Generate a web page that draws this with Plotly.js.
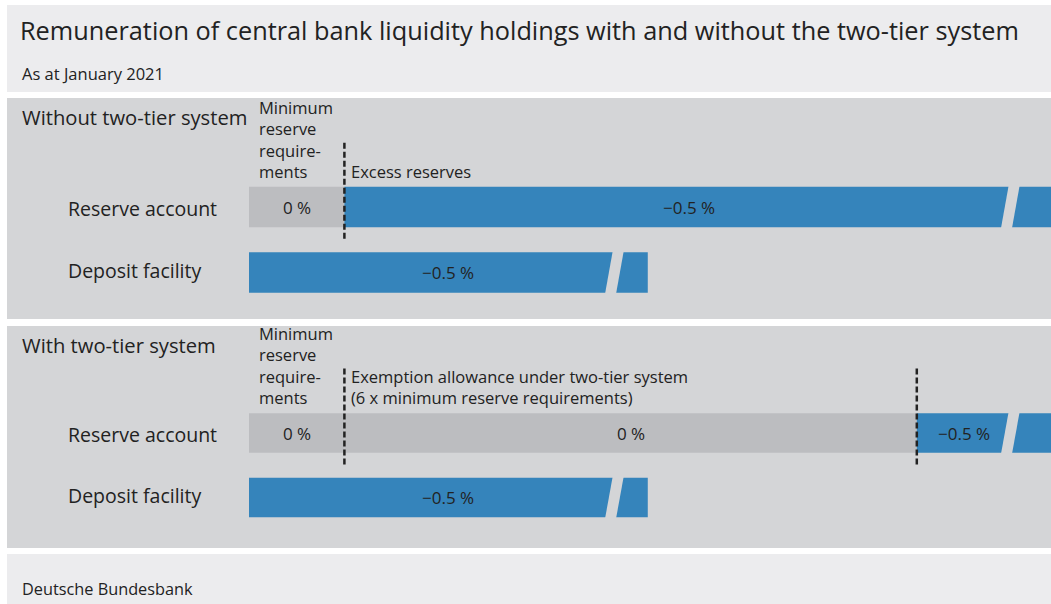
<!DOCTYPE html>
<html><head><meta charset="utf-8">
<script src="https://cdn.plot.ly/plotly-3.0.1.min.js"></script>
<style>html,body{margin:0;padding:0;background:#fff;} #chart{width:1051px;height:604px;}</style>
</head><body><div id="chart"></div>
<script>
// ---------------- data ----------------
const rowNames = ["Reserve account", "Deposit facility"];
const panelNames = ["Without two-tier system", "With two-tier system"];
// holdings, in units of the minimum reserve requirement
const segNamesNoTier = ["Minimum<br>reserve<br>require-<br>ments", "Excess reserves"];
const reserveNoTier = [1, 9];            // minimum reserves, excess reserves
const rateNoTier = [0, -0.5];            // % remuneration
const segNamesTier = ["Minimum<br>reserve<br>require-<br>ments", "Exemption allowance under two-tier system<br>(6 x minimum reserve requirements)", ""];
const reserveTier = [1, 6, 3];           // minimum reserves, exemption allowance, remaining excess
const rateTier = [0, 0, -0.5];
const depositHolding = [4.18];
const depositRate = [-0.5];
const reserveBreak = 7.98;               // position of the axis break on the bars
const depositBreak = 3.83;

// ---------------- styling ----------------
const W = 1051, H = 604;
const FONT = "Open Sans, Noto Sans, sans-serif";
const TXT = "#222222";
const BLUE = "#3584bb", GREY = "#bcbdc0", PANEL = "#d4d5d7", HEAD = "#ececee";
const unit = 95.4, x0px = 249;
const xRange = [-x0px / unit, (W - x0px) / unit];
const BARW = 0.615;

function px(x){ return x / W; }
function py(y){ return 1 - y / H; }
function fmt(r){ return (r < 0 ? "\u2212" : "") + Math.abs(r) + "\u2005%"; }
function colorOf(r){ return r < 0 ? BLUE : GREY; }
function cum(a){ const s=[]; let t=0; a.forEach(v=>{ s.push(t); t+=v; }); return s; }

const traces = [], annotations = [], shapes = [];

function addRow(yax, row, lens, rates, brk){
  const bases = cum(lens);
  traces.push({
    type: "bar", orientation: "h", yaxis: yax, xaxis: "x",
    y: lens.map(()=>row), x: lens, base: bases, width: lens.map(()=>BARW),
    marker: {color: rates.map(colorOf), line: {width: 0}},
    hoverinfo: "skip", showlegend: false
  });
  lens.forEach((l, i) => {
    const s = bases[i], e = s + l;
    let mid;
    if (e <= xRange[1]) mid = (s + e) / 2;                       // bar fully visible
    else mid = (s + brk) / 2 + (brk - s > 3 ? 0.12 : 0);          // bar runs off the chart
    annotations.push({
      xref: "x", yref: yax, x: mid, y: row,
      text: fmt(rates[i]), showarrow: false, xanchor: "center", yanchor: "middle",
      font: {family: FONT, size: 17, color: TXT}
    });
  });
  // axis-break gap
  const total = bases[bases.length-1] + lens[lens.length-1];
  if (total > brk) {
    const ri = rowNames.indexOf(row);
    const g = 11 / unit, sl = 8 / unit, hh = 0.34;
    const t = ri - hh, b = ri + hh;
    const path = `M ${brk - g/2 + sl/2} ${t} L ${brk + g/2 + sl/2} ${t} L ${brk + g/2 - sl/2} ${b} L ${brk - g/2 - sl/2} ${b} Z`;
    shapes.push({type: "path", xref: "x", yref: yax, path: path, fillcolor: PANEL, line: {width: 0}, layer: "above"});
  }
}

function addSegLabels(yax, lens, names, dashTop){
  const bases = cum(lens);
  names.forEach((n, i) => {
    if (!n) return;
    annotations.push({
      xref: "x", yref: yax, x: bases[i], y: -BARW / 2, text: n, showarrow: false,
      xanchor: "left", yanchor: "bottom", align: "left", xshift: i === 0 ? 9 : 6,
      yshift: 3, borderpad: 0,
      font: {family: FONT, size: 16.5, color: TXT}
    });
  });
  // dashed boundaries between segments of the reserve account
  bases.slice(1).forEach((b) => {
    shapes.push({type: "line", xref: "x", yref: yax, x0: b, x1: b, y0: dashTop, y1: 0.49,
      line: {color: "#222", width: 2.5, dash: "6px,3px"}, layer: "above"});
  });
}

// panel 1
addRow("y", rowNames[0], reserveNoTier, rateNoTier, reserveBreak);
addRow("y", rowNames[1], depositHolding, depositRate, depositBreak);
addSegLabels("y", reserveNoTier, segNamesNoTier, -0.98);
// panel 2
addRow("y2", rowNames[0], reserveTier, rateTier, reserveBreak);
addRow("y2", rowNames[1], depositHolding, depositRate, depositBreak);
addSegLabels("y2", reserveTier, segNamesTier, -1.0);

// row labels
["y", "y2"].forEach(yax => rowNames.forEach((r, i) => annotations.push({
  xref: "paper", yref: yax, x: px(66), y: r, text: r, showarrow: false, yshift: i === 0 ? -1 : 2,
  xanchor: "left", yanchor: "middle", font: {family: FONT, size: 19.5, color: TXT}
})));

// panel titles
[[panelNames[0], 117], [panelNames[1], 345]].forEach(([t, y]) => annotations.push({
  xref: "paper", yref: "paper", x: px(20), y: py(y), text: t, showarrow: false,
  xanchor: "left", yanchor: "middle", font: {family: FONT, size: 20.2, color: TXT}
}));

annotations.push({xref: "paper", yref: "paper", x: px(20), y: py(73), text: "As at January 2021",
  showarrow: false, xanchor: "left", yanchor: "middle", font: {family: FONT, size: 16.5, color: TXT}});
annotations.push({xref: "paper", yref: "paper", x: px(20), y: py(589), text: "Deutsche Bundesbank",
  showarrow: false, xanchor: "left", yanchor: "middle", font: {family: FONT, size: 16.3, color: TXT}});

// panel backgrounds
[[5, 92, HEAD], [98, 319, PANEL], [326, 548, PANEL], [554, 604, HEAD]].forEach(([a, b, c]) =>
  shapes.unshift({type: "rect", xref: "paper", yref: "paper", x0: px(7), x1: 1, y0: py(b), y1: py(a),
    fillcolor: c, line: {width: 0}, layer: "below"}));

const layout = {
  width: W, height: H, margin: {l: 0, r: 0, t: 0, b: 0},
  paper_bgcolor: "#ffffff", plot_bgcolor: "rgba(0,0,0,0)",
  barmode: "overlay", showlegend: false,
  title: {text: "Remuneration of central bank liquidity holdings with and without the two-tier system",
    x: px(20), xanchor: "left", y: py(31), yanchor: "middle", font: {family: FONT, size: 25.3, color: TXT}},
  xaxis: {range: xRange, visible: false, fixedrange: true},
  yaxis: {type: "category", categoryorder: "array", categoryarray: rowNames,
    range: [(H - 207) / 65.5, -207 / 65.5], visible: false, fixedrange: true},
  yaxis2: {type: "category", categoryorder: "array", categoryarray: rowNames, overlaying: "y",
    range: [(H - 433) / 64.5, -433 / 64.5], visible: false, fixedrange: true},
  annotations: annotations, shapes: shapes
};

Plotly.newPlot("chart", traces, layout, {displayModeBar: false, staticPlot: true});
</script></body></html>
